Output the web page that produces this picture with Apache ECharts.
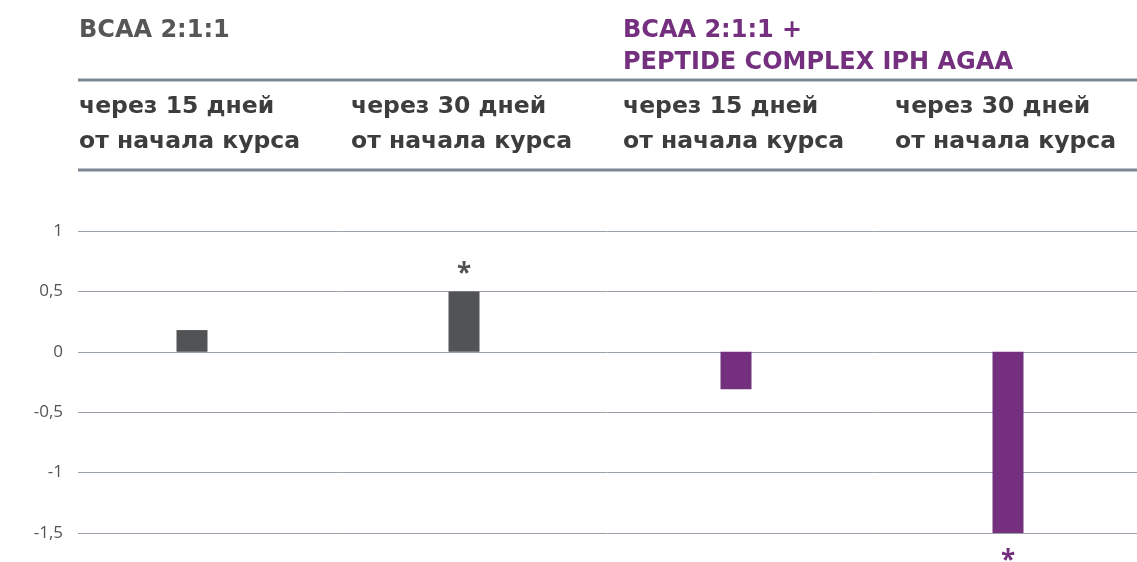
<!DOCTYPE html>
<html><head><meta charset="utf-8">
<script src="https://cdn.jsdelivr.net/npm/echarts@6/dist/echarts.min.js"></script>
<style>html,body{margin:0;padding:0;background:#fff}#c{width:1137px;height:562px}</style>
</head><body><div id="c"></div>
<script>
const groupTitles = ['BCAA 2:1:1', 'BCAA 2:1:1 +\nPEPTIDE COMPLEX IPH AGAA'];
const categories = ['через 15 дней\nот начала курса', 'через 30 дней\nот начала курса', 'через 15 дней\nот начала курса', 'через 30 дней\nот начала курса'];
const values = [0.18, 0.5, -0.31, -1.5];
const significant = [false, true, false, true];
const groupOfCategory = [0, 0, 1, 1];
const yTicks = { min: -1.5, max: 1, interval: 0.5 };

const GRAY = '#525354', PURPLE = '#74307f', TXT = '#3d3d3d', LINE = '#7d8791';
const groupColors = [GRAY, PURPLE];
const font = '"DejaVu Sans", sans-serif';
const labelFont = '"Open Sans", sans-serif';

const chart = echarts.init(document.getElementById('c'));
const graphics = [];
groupTitles.forEach((t, g) => {
  graphics.push({ type: 'text', left: 79 + 544 * g, top: 15,
    style: { text: t, fill: g === 0 ? '#555657' : PURPLE, font: 'bold 24px ' + font, lineHeight: 32 } });
});
categories.forEach((c, i) => {
  graphics.push({ type: 'text', left: 79 + 272 * i, top: 89,
    style: { text: c, fill: TXT, font: 'bold 23.5px ' + font, lineHeight: 35 } });
});
[80, 170].forEach(y => graphics.push({ type: 'line', shape: { x1: 78, y1: y, x2: 1137, y2: y }, style: { stroke: LINE, lineWidth: 3 } }));

chart.setOption({
  animation: false,
  graphic: graphics,
  grid: [
    { left: 78, right: 0, top: 231, height: 302 },
    { left: 192, width: 816, top: 231, height: 302 }
  ],
  xAxis: [
    { gridIndex: 0, type: 'category', data: categories, show: false },
    { gridIndex: 1, type: 'category', data: categories, boundaryGap: false, show: false }
  ],
  yAxis: [
    { gridIndex: 0, type: 'value', min: yTicks.min, max: yTicks.max, interval: yTicks.interval,
      axisLine: { show: false }, axisTick: { show: false },
      axisLabel: { margin: 15, color: '#555', fontSize: 17, fontFamily: labelFont,
        formatter: v => String(v).replace('.', ',') },
      splitLine: { lineStyle: { color: '#98a1a9', width: 1 } } },
    { gridIndex: 1, type: 'value', min: yTicks.min, max: yTicks.max, interval: yTicks.interval, show: false, splitLine: { show: false } }
  ],
  series: [{
    type: 'bar', xAxisIndex: 1, yAxisIndex: 1, barWidth: 31,
    data: values.map((v, i) => ({
      value: v,
      itemStyle: { color: groupColors[groupOfCategory[i]] },
      label: { show: significant[i], formatter: '*', position: v >= 0 ? 'top' : 'bottom',
        distance: v >= 0 ? 4 : 16, fontSize: 26, fontWeight: 'bold', fontFamily: labelFont, color: groupColors[groupOfCategory[i]] }
    }))
  }]
});
</script></body></html>
